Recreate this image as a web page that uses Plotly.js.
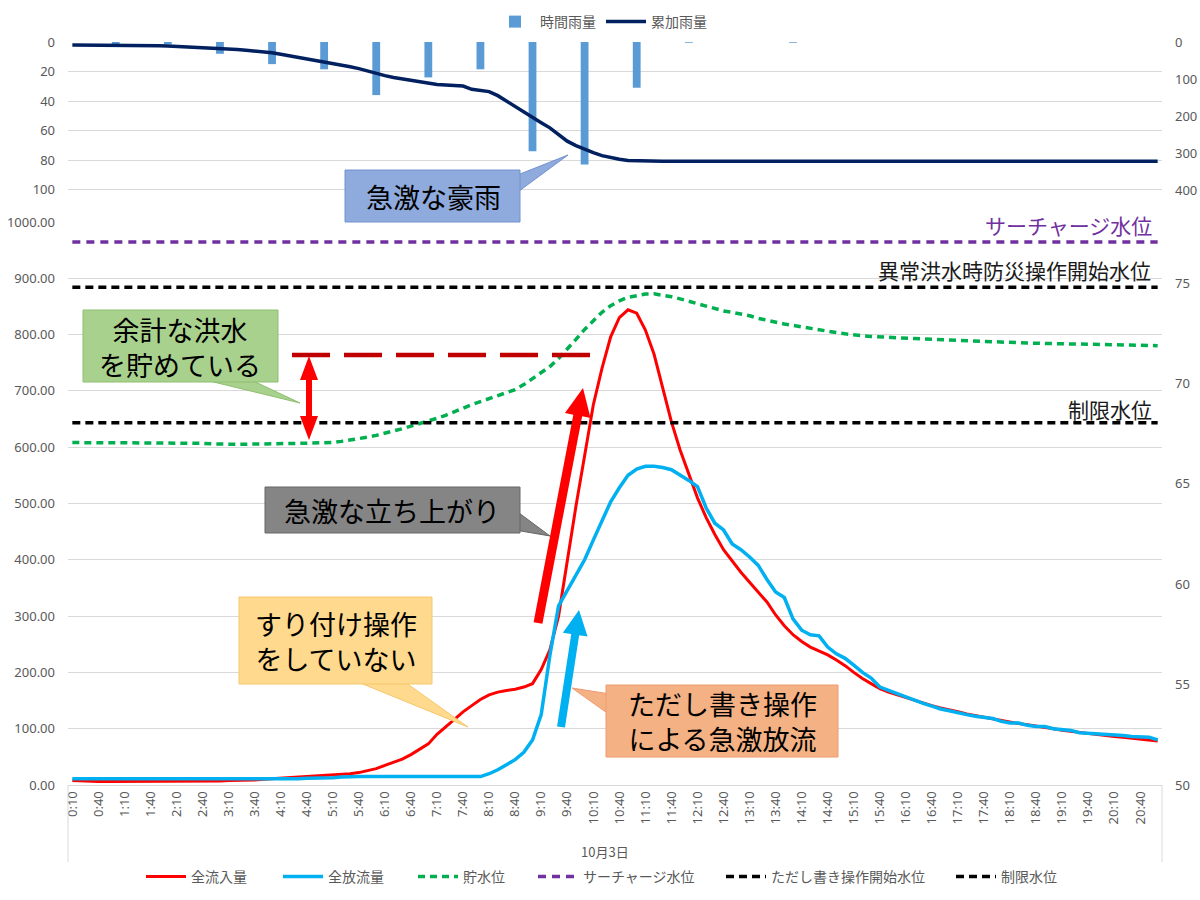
<!DOCTYPE html>
<html><head><meta charset="utf-8">
<script src="https://cdn.plot.ly/plotly-3.0.1.min.js"></script>
<style>html,body{margin:0;padding:0;background:#fff}#chart{width:1200px;height:900px}</style>
</head><body><div id="chart"></div>
<script>
// ---------------- DATA ----------------
const times = [
'0:10','0:20','0:30','0:40','0:50','1:00','1:10','1:20','1:30','1:40','1:50','2:00',
'2:10','2:20','2:30','2:40','2:50','3:00','3:10','3:20','3:30','3:40','3:50','4:00',
'4:10','4:20','4:30','4:40','4:50','5:00','5:10','5:20','5:30','5:40','5:50','6:00',
'6:10','6:20','6:30','6:40','6:50','7:00','7:10','7:20','7:30','7:40','7:50','8:00',
'8:10','8:20','8:30','8:40','8:50','9:00','9:10','9:20','9:30','9:40','9:50','10:00',
'10:10','10:20','10:30','10:40','10:50','11:00','11:10','11:20','11:30','11:40','11:50','12:00',
'12:10','12:20','12:30','12:40','12:50','13:00','13:10','13:20','13:30','13:40','13:50','14:00',
'14:10','14:20','14:30','14:40','14:50','15:00','15:10','15:20','15:30','15:40','15:50','16:00',
'16:10','16:20','16:30','16:40','16:50','17:00','17:10','17:20','17:30','17:40','17:50','18:00',
'18:10','18:20','18:30','18:40','18:50','19:00','19:10','19:20','19:30','19:40','19:50','20:00',
'20:10','20:20','20:30','20:40','20:50','21:00'];
const xTickLabels = ['0:10','0:40','1:10','1:40','2:10','2:40','3:10','3:40','4:10','4:40','5:10','5:40',
'6:10','6:40','7:10','7:40','8:10','8:40','9:10','9:40','10:10','10:40','11:10','11:40','12:10','12:40',
'13:10','13:40','14:10','14:40','15:10','15:40','16:10','16:40','17:10','17:40','18:10','18:40',
'19:10','19:40','20:10','20:40'];
const dateLabel = '10月3日';

// 時間雨量 (mm, hourly)
const hourTimes = ['1:00','2:00','3:00','4:00','5:00','6:00','7:00','8:00','9:00','10:00','11:00','12:00','14:00'];
const hourlyRain = [1.5,1.5,8,15,18.5,36,24,18.5,74,83,31,0.5,0.5];

// 累加雨量 (mm)
const cumRain = [
8,8,8,8,8,8,8,8,8,9,10,11,12,12,13,14,15,17,19,20,22,24,26,29,33,37,42,47,50,53,
57,62,67,72,79,86,91,96,100,104,109,112,115,116,117,119,128,131,134,145,160,175,190,205,218,232,
250,268,280,290,299,307,313,317,320,321,321,321,322,322,322,322,
322,322,322,322,322,322,322,322,322,322,322,322,322,322,322,322,322,322,
322,322,322,322,322,322,322,322,322,322,322,322,322,322,322,322,322,322,
322,322,322,322,322,322,322,322,322,322,322,322,322,322,322,322,322,322];

// 全流入量 (m3/s)
const inflow = [
8,7,7,6,6,6,6,7,7,6,6,6,6,7,7,7,7,7,8,8,8,
9,10,11,12,13,14,15,15,16,17,18,20,22,25,29,35,40,46,54,63,73,90,103,116,130,141,152,160,165,168,170,174,180,
205,240,300,400,495,585,675,740,796,830,844,838,808,765,705,645,595,553,510,475,445,418,397,378,360,343,
325,302,283,267,255,245,238,231,222,212,200,189,180,171,165,160,155,150,145,141,137,134,130,126,123,120,
117,114,112,109,107,105,103,100,97,95,93,91,89,88,86,85,83,82,80,78];

// 全放流量 (m3/s)
const outflow = [
11,11,11,11,11,11,11,11,11,11,10,10,10,10,10,11,11,11,11,11,11,11,11,11,11,11,11,12,12,12,
13,14,15,15,15,15,15,15,15,15,15,15,15,15,15,15,15,15,
20,27,36,45,58,80,125,230,318,345,375,400,435,468,503,528,550,561,566,566,564,560,551,541,530,492,
465,453,428,418,405,390,365,343,333,295,275,267,265,245,233,225,213,200,190,174,168,162,157,151,145,
140,135,132,128,125,122,120,118,113,110,110,106,104,104,100,98,97,93,92,92,90,90,88,86,86,85,80];

// 貯水位 (m)
const level = [
67.06,67.05,67.05,67.05,67.05,67.05,67.05,67.05,67.05,67.05,67.05,67.05,67.05,67.05,67.05,
67.02,67.0,66.98,66.97,66.97,66.98,66.98,66.99,67.0,67.0,67.01,67.02,67.03,67.04,67.05,
67.07,67.12,67.18,67.25,67.33,67.42,67.52,67.63,67.75,67.88,
68.0,68.13,68.27,68.42,68.6,68.8,68.95,69.1,69.25,69.4,
69.55,69.7,69.95,70.25,70.55,70.85,71.25,71.7,72.2,72.7,
73.15,73.55,73.88,74.12,74.3,74.4,74.46,74.47,74.42,74.33,
74.22,74.1,73.97,73.85,73.72,73.62,73.55,73.48,73.38,73.25,
73.15,73.05,72.97,72.9,72.82,72.75,72.68,72.6,72.54,72.48,
72.42,72.38,72.35,72.32,72.3,72.28,72.26,72.24,72.22,72.2,
72.18,72.16,72.14,72.12,72.1,72.08,72.06,72.05,72.04,72.03,
72.02,72.01,72.0,71.99,71.98,71.97,71.96,71.95,71.94,71.94,
71.93,71.92,71.91,71.9,71.9,71.89];

const surchargeLevel = 77.05;   // サーチャージ水位
const abnormalLevel  = 74.8;    // ただし書き操作開始水位
const limitLevel     = 68.05;   // 制限水位

// ---------------- LAYOUT HELPERS ----------------
const W = 1200, H = 900, ML = 68, MR = 38, MT = 42, MB = 115;
const PW = W - ML - MR, PH = H - MT - MB;
const px = x => (x - ML) / PW;
const py = y => (H - MB - y) / PH;
const split = py(222);
const FONT = 'Noto Sans CJK JP, Noto Sans, sans-serif';
const GRAY = '#595959';

function poly(pts){ return 'M' + pts.map(p => px(p[0]).toFixed(5) + ',' + py(p[1]).toFixed(5)).join(' L') + ' Z'; }
function arrowPts(x1,y1,x2,y2,sw,hw,hl,both){
  const dx=x2-x1, dy=y2-y1, L=Math.hypot(dx,dy), ux=dx/L, uy=dy/L, nx=-uy, ny=ux;
  const h=sw/2, H2=hw/2;
  const bx=x2-ux*hl, by=y2-uy*hl;
  let pts=[];
  if(both){
    const sx=x1+ux*hl, sy=y1+uy*hl;
    pts=[[x1,y1],[sx+nx*H2,sy+ny*H2],[sx+nx*h,sy+ny*h],[bx+nx*h,by+ny*h],[bx+nx*H2,by+ny*H2],[x2,y2],
         [bx-nx*H2,by-ny*H2],[bx-nx*h,by-ny*h],[sx-nx*h,sy-ny*h],[sx-nx*H2,sy-ny*H2]];
  } else {
    pts=[[x1+nx*h,y1+ny*h],[bx+nx*h,by+ny*h],[bx+nx*H2,by+ny*H2],[x2,y2],[bx-nx*H2,by-ny*H2],[bx-nx*h,by-ny*h],[x1-nx*h,y1-ny*h]];
  }
  return poly(pts);
}
function pathShape(d, fill, line){ return {type:'path', xref:'paper', yref:'paper', path:d, fillcolor:fill, line:{color:line||fill, width:line?1:0}, layer:'above'}; }
function rectShape(x0,y0,x1,y1,fill,line){ return {type:'rect', xref:'paper', yref:'paper', x0:px(x0), x1:px(x1), y0:py(y1), y1:py(y0), fillcolor:fill, line:{color:line, width:1}, layer:'above'}; }
function txt(x,y,text,size,color,anchor){ return {xref:'paper', yref:'paper', x:px(x), y:py(y), text:text, showarrow:false, xanchor:anchor||'center', yanchor:'middle', font:{family:FONT, size:size, color:color||'#000'}}; }
function legendAt(xs, ymid){ return {x:px(xs), y:py(ymid), xanchor:'left', yanchor:'middle', orientation:'h', bgcolor:'rgba(0,0,0,0)', borderwidth:0, font:{family:FONT, size:14, color:GRAY}, itemwidth:40}; }

// ---------------- TRACES ----------------
const first = times[0], last = times[times.length-1];
const data = [
  {type:'bar', x:hourTimes, y:hourlyRain, xaxis:'x', yaxis:'y3', name:'時間雨量', marker:{color:'#5B9BD5'}, width:0.9, legend:'legend2'},
  {type:'scatter', mode:'lines', x:times, y:cumRain, xaxis:'x', yaxis:'y4', name:'累加雨量', line:{color:'#002060', width:3.5}, legend:'legend2'},
  {type:'scatter', mode:'lines', x:times, y:inflow, yaxis:'y', name:'全流入量', line:{color:'#FF0000', width:3}, legend:'legend'},
  {type:'scatter', mode:'lines', x:times, y:outflow, yaxis:'y', name:'全放流量', line:{color:'#00B0F0', width:3.5}, legend:'legend3'},
  {type:'scatter', mode:'lines', x:times, y:level, yaxis:'y2', name:'貯水位', line:{color:'#00B050', width:3.5, dash:'7px,5px'}, legend:'legend4'},
  {type:'scatter', mode:'lines', x:[first,last], y:[surchargeLevel,surchargeLevel], yaxis:'y2', name:'サーチャージ水位', line:{color:'#7030A0', width:3.5, dash:'8px,6px'}, legend:'legend5'},
  {type:'scatter', mode:'lines', x:[first,last], y:[abnormalLevel,abnormalLevel], yaxis:'y2', name:'ただし書き操作開始水位', line:{color:'#000000', width:3.5, dash:'8px,5px'}, legend:'legend6'},
  {type:'scatter', mode:'lines', x:[first,last], y:[limitLevel,limitLevel], yaxis:'y2', name:'制限水位', line:{color:'#000000', width:3.5, dash:'8px,5px'}, legend:'legend7'}
];

// ---------------- ANNOTATION SHAPES ----------------
const shapes = [
  {type:'line', xref:'paper', yref:'paper', x0:0, x1:0, y0:0, y1:py(862), line:{color:'#d9d9d9', width:1}},
  {type:'line', xref:'paper', yref:'paper', x0:1, x1:1, y0:0, y1:py(862), line:{color:'#d9d9d9', width:1}},
  pathShape(poly([[515,176],[515,194],[568,155]]), '#8FAADC', '#7292CF'),
  rectShape(345,170,520,222,'#8FAADC','#7292CF'),
  pathShape(poly([[197,378],[247,378],[300,403]]), '#A9D18E', '#8DBF6E'),
  rectShape(83,310,278,382,'#A9D18E','#8DBF6E'),
  {type:'line', xref:'paper', yref:'paper', x0:px(292), x1:px(595), y0:py(355), y1:py(355), line:{color:'#C00000', width:4.5, dash:'38px,14px'}, layer:'above'},
  pathShape(arrowPts(309,356,309,440,6,18,24,true), '#FF0000'),
  pathShape(arrowPts(538,623,583,388,9,26,28,false), '#FF0000'),
  pathShape(arrowPts(561,727,579,610,8,25,25,false), '#00B0F0'),
  pathShape(poly([[515,510],[515,530],[550,536]]), '#858585', '#666666'),
  rectShape(265,487,520,533,'#858585','#666666'),
  pathShape(poly([[353,680],[402,680],[468,727]]), '#FFD98E', '#F5C76A'),
  rectShape(239,597,432,684,'#FFD98E','#F5C76A'),
  pathShape(poly([[610,694],[610,715],[572,688]]), '#F4B183', '#F09A70'),
  rectShape(606,685,838,757,'#F4B183','#F09A70')
];

const annotations = [
  txt(433,196,'急激な豪雨',27),
  txt(180,347,'余計な洪水<br>を貯めている',27),
  txt(392,510,'急激な立ち上がり',27),
  txt(336,641,'すり付け操作<br>をしていない',27),
  txt(722,721,'ただし書き操作<br>による急激放流',27),
  txt(1154,225,'サーチャージ水位',21,'#7030A0','right'),
  txt(1153,270,'異常洪水時防災操作開始水位',21,'#1a1a1a','right'),
  txt(1154,409,'制限水位',21,'#1a1a1a','right'),
  txt(605,851,dateLabel,13,GRAY)
];

const tickFont = {family:'Noto Sans, sans-serif', size:13, color:GRAY};
const layout = {
  width:W, height:H, margin:{l:ML, r:MR, t:MT, b:MB, autoexpand:false},
  paper_bgcolor:'#fff', plot_bgcolor:'#fff',
  font:{family:FONT, color:GRAY},
  showlegend:true, hovermode:false, barmode:'overlay',
  xaxis:{type:'category', categoryorder:'array', categoryarray:times, range:[-0.5, times.length-0.5],
         tickmode:'array', tickvals:xTickLabels, ticktext:xTickLabels, tickangle:-90,
         tickfont:tickFont, showgrid:false, showline:true, linecolor:'#d9d9d9', linewidth:1, ticks:'', zeroline:false, anchor:'y', automargin:false},
  yaxis:{domain:[0,split], range:[0,1000], dtick:100, tickformat:'.2f', tickfont:tickFont, automargin:false,
         gridcolor:'#d9d9d9', gridwidth:1, zeroline:false, showline:false, ticks:'', ticklabelstandoff:12},
  yaxis2:{overlaying:'y', side:'right', range:[50,78.05], tickvals:[50,55,60,65,70,75], tickfont:tickFont, automargin:false,
          showgrid:false, zeroline:false, showline:false, ticks:'', ticklabelstandoff:12},
  yaxis3:{domain:[split,1], range:[122,0], tickvals:[0,20,40,60,80,100], tickfont:tickFont, automargin:false,
          gridcolor:'#d9d9d9', gridwidth:1, zeroline:false, showline:false, ticks:'', ticklabelstandoff:12, anchor:'x'},
  yaxis4:{overlaying:'y3', side:'right', range:[486.5,0], tickvals:[0,100,200,300,400], tickfont:tickFont, automargin:false,
          showgrid:false, zeroline:false, showline:false, ticks:'', ticklabelstandoff:12, anchor:'x'},
  legend: legendAt(141,877),
  legend2: legendAt(490,22),
  legend3: legendAt(278,877),
  legend4: legendAt(413,877),
  legend5: legendAt(533,877),
  legend6: legendAt(721,877),
  legend7: legendAt(951,877),
  shapes:shapes, annotations:annotations
};

Plotly.newPlot('chart', data, layout, {displayModeBar:false, staticPlot:true});
</script></body></html>
